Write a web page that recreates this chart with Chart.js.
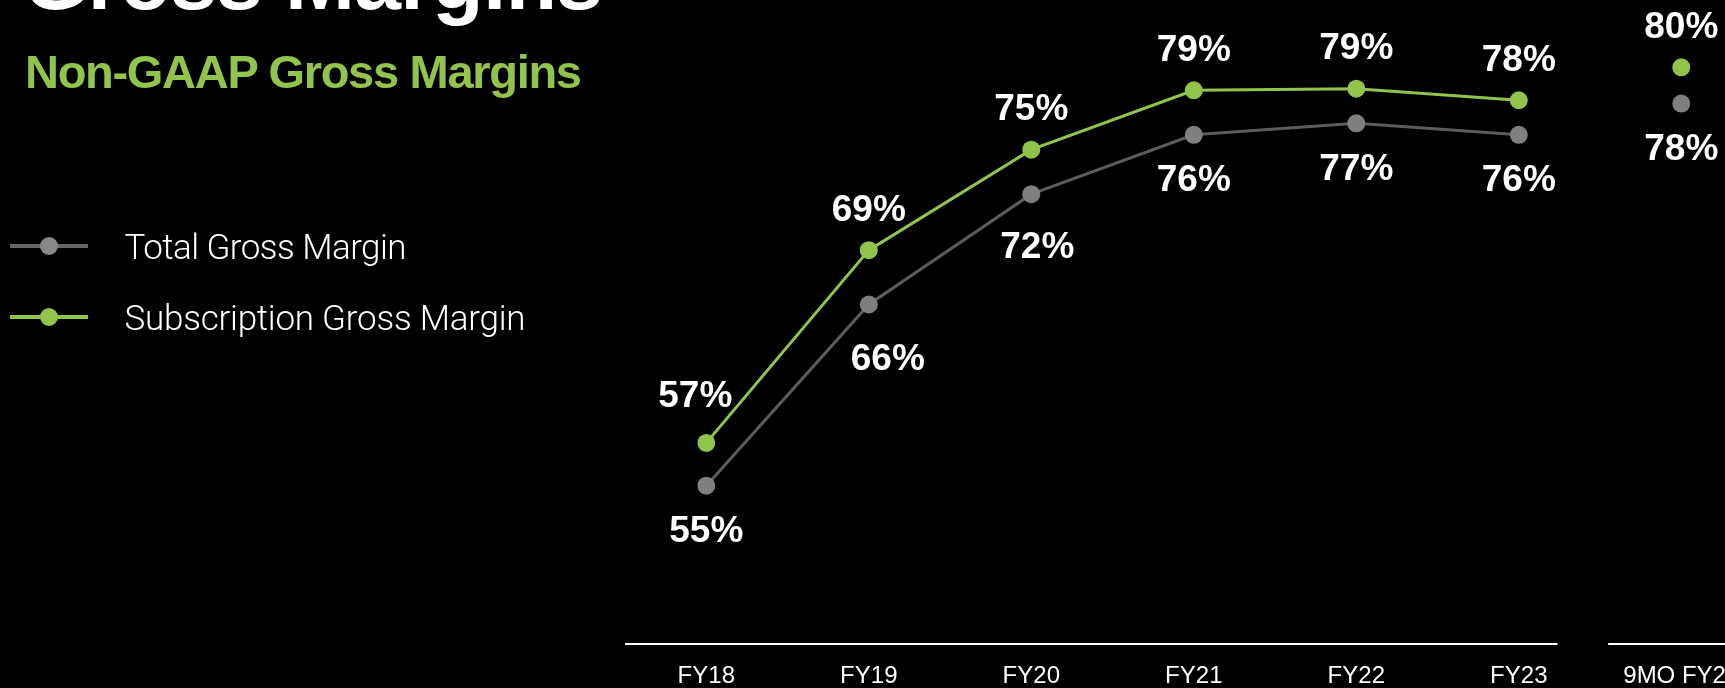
<!DOCTYPE html>
<html>
<head>
<meta charset="utf-8">
<script src="https://cdn.jsdelivr.net/npm/chart.js@4.4.0/dist/chart.umd.min.js"></script>
<style>
  html, body { margin: 0; padding: 0; background: #000; width: 1725px; height: 688px; overflow: hidden; }
  #wrap { position: relative; width: 1725px; height: 688px; background: #000; }
  #chart { position: absolute; left: 0; top: 0; }
  .txt { position: absolute; white-space: nowrap; line-height: 1; font-family: "Liberation Sans", Arial, sans-serif; }
  #title { left: 23px; top: -62px; font-size: 84px; font-weight: bold; color: #ffffff; }
  #subtitle { left: 25px; top: 47.5px; font-size: 47px; font-weight: bold; color: #92c34c; }
  .legLine { position: absolute; height: 4px; }
  .legDot { position: absolute; width: 18px; height: 18px; border-radius: 50%; }
  .legText { font-family: Roboto, "Liberation Sans", Arial, sans-serif; font-weight: 300; font-size: 35px; color: #ffffff; }
</style>
</head>
<body>
<div id="wrap">
  <canvas id="chart" width="1725" height="688"></canvas>
  <div id="title" class="txt">Gross Margins</div>
  <div id="subtitle" class="txt">Non-GAAP Gross Margins</div>
  <div id="legend"></div>
</div>
<script>
// ---- data ----
const categories = ['FY18', 'FY19', 'FY20', 'FY21', 'FY22', 'FY23', '9MO FY24'];
const totalGrossMargin = [54.7, 65.7, 72.4, 76.0, 76.7, 76.0, 77.9];
const subscriptionGrossMargin = [57.3, 69.0, 75.1, 78.7, 78.8, 78.1, 80.1];
const seriesNames = ['Total Gross Margin', 'Subscription Gross Margin'];

// ---- styles ----
const GREEN = '#92c34c';
const GREY_LINE = '#5c5c5c';
const GREY_DOT = '#7f7f7f';
const LABEL_FONT = 'bold 37px "Liberation Sans", Arial, sans-serif';
// per-label nudges [dx, dy] (dataset index -> point index)
const labelNudge = { 1: { 0: [-11, -6] }, 0: { 1: [19, 9], 2: [6, 7] } };

function fitWidth(el, target) {
  el.style.letterSpacing = '0px';
  const w = el.getBoundingClientRect().width;
  const n = el.textContent.length;
  el.style.letterSpacing = ((target - w) / (n - 1)) + 'px';
}

// legend (HTML)
const legendDefs = [
  { name: seriesNames[0], line: '#666666', dot: '#888888', cy: 245.7, baseline: 260, width: 282 },
  { name: seriesNames[1], line: GREEN, dot: GREEN, cy: 316.7, baseline: 331, width: 401 }
];
const legend = document.getElementById('legend');
legendDefs.forEach(d => {
  const l = document.createElement('div');
  l.className = 'legLine';
  l.style.left = '10px'; l.style.width = '78px'; l.style.top = (d.cy - 2) + 'px'; l.style.background = d.line;
  legend.appendChild(l);
  const c = document.createElement('div');
  c.className = 'legDot';
  c.style.left = (49 - 9) + 'px'; c.style.top = (d.cy - 9) + 'px'; c.style.background = d.dot;
  legend.appendChild(c);
  const t = document.createElement('div');
  t.className = 'txt legText';
  t.textContent = d.name;
  t.style.left = '124.5px';
  t.style.top = (d.baseline - 0.8465 * 35) + 'px';
  legend.appendChild(t);
  fitWidth(t, d.width);
});
fitWidth(document.getElementById('title'), 580);
fitWidth(document.getElementById('subtitle'), 557);

const axisLinePlugin = {
  id: 'axisLine',
  afterDraw(chart) {
    const { ctx, chartArea, scales } = chart;
    const x = scales.x;
    const step = x.getPixelForValue(1) - x.getPixelForValue(0);
    const y = chartArea.bottom;
    ctx.save();
    ctx.strokeStyle = '#ffffff';
    ctx.lineWidth = 2;
    ctx.beginPath();
    ctx.moveTo(x.getPixelForValue(0) - 0.5 * step, y);
    ctx.lineTo(x.getPixelForValue(5) + 0.238 * step, y);
    ctx.moveTo(x.getPixelForValue(6) - 0.45 * step, y);
    ctx.lineTo(chart.width + 10, y);
    ctx.stroke();
    ctx.restore();
  }
};

const valueLabelPlugin = {
  id: 'valueLabels',
  afterDatasetsDraw(chart) {
    const { ctx } = chart;
    ctx.save();
    ctx.font = LABEL_FONT;
    ctx.fillStyle = '#ffffff';
    ctx.textAlign = 'center';
    ctx.textBaseline = 'alphabetic';
    chart.data.datasets.forEach((ds, di) => {
      const meta = chart.getDatasetMeta(di);
      meta.data.forEach((pt, i) => {
        const v = ds.data[i];
        const txt = Math.round(v) + '%';
        const nudge = (labelNudge[di] && labelNudge[di][i]) || [0, 0];
        let y;
        if (di === 1) {
          y = pt.y - 29.5 + nudge[1];
        } else {
          y = pt.y + 30 + 26.5 + nudge[1];
        }
        ctx.fillText(txt, pt.x + nudge[0], y);
      });
    });
    ctx.restore();
  }
};

const hideLastSegment = (color) => (c) => (c.p1DataIndex === categories.length - 1 ? 'rgba(0,0,0,0)' : color);

new Chart(document.getElementById('chart'), {
  type: 'line',
  data: {
    labels: categories,
    datasets: [
      {
        label: seriesNames[0],
        data: totalGrossMargin,
        borderColor: GREY_LINE,
        backgroundColor: GREY_DOT,
        pointBackgroundColor: GREY_DOT,
        pointBorderWidth: 0,
        pointRadius: 9,
        pointHoverRadius: 9,
        borderWidth: 3,
        tension: 0,
        segment: { borderColor: hideLastSegment(GREY_LINE) }
      },
      {
        label: seriesNames[1],
        data: subscriptionGrossMargin,
        borderColor: GREEN,
        backgroundColor: GREEN,
        pointBackgroundColor: GREEN,
        pointBorderWidth: 0,
        pointRadius: 9,
        pointHoverRadius: 9,
        borderWidth: 3,
        tension: 0,
        segment: { borderColor: hideLastSegment(GREEN) }
      }
    ]
  },
  options: {
    responsive: false,
    animation: false,
    devicePixelRatio: 1,
    layout: { padding: { left: 706.3, right: 43.7, top: 2, bottom: 0 } },
    plugins: { legend: { display: false }, tooltip: { enabled: false } },
    scales: {
      x: {
        type: 'category',
        offset: false,
        grid: { display: false, drawTicks: false },
        border: { display: false },
        ticks: {
          color: '#ffffff',
          font: { family: '"Liberation Sans", Arial, sans-serif', size: 24, lineHeight: 1.2 },
          padding: 18,
          autoSkip: false,
          maxRotation: 0,
          minRotation: 0
        },
        afterFit(s) { s.height = 44; s.paddingLeft = 0; s.paddingRight = 0; }
      },
      y: {
        display: false,
        min: 45.09,
        max: 83.64,
        ticks: { display: false }
      }
    }
  },
  plugins: [axisLinePlugin, valueLabelPlugin]
});
</script>
</body>
</html>
